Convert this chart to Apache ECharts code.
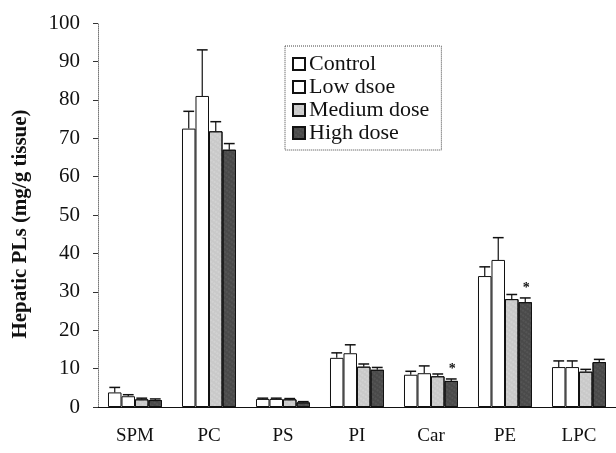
<!DOCTYPE html>
<html><head><meta charset="utf-8">
<script src="https://cdn.jsdelivr.net/npm/echarts@6/dist/echarts.min.js"></script>
<style>html,body{margin:0;padding:0;background:#fff}#c{width:616px;height:453px}</style>
</head><body><div id="c"></div>
<script>
const categories = ['SPM','PC','PS','PI','Car','PE','LPC'];
const seriesNames = ['Control','Low dsoe','Medium dose','High dose'];
const control = [3.8, 72.5, 2.1, 12.8, 8.4, 34.1, 10.4];
const lowDose = [2.8, 81.0, 2.1, 14.0, 8.8, 38.3, 10.4];
const mediumDose = [2.0, 71.8, 2.0, 10.5, 8.0, 28.1, 9.2];
const highDose = [1.8, 67.0, 1.2, 9.7, 6.8, 27.3, 11.7];
const controlErr = [1.3, 4.5, 0.2, 1.3, 0.9, 2.4, 1.6];
const lowDoseErr = [0.4, 12.0, 0.2, 2.2, 1.9, 5.8, 1.6];
const mediumDoseErr = [0.3, 2.5, 0.2, 0.7, 0.6, 1.2, 0.6];
const highDoseErr = [0.3, 1.6, 0.2, 0.6, 0.5, 1.1, 0.7];
const highDoseStar = [0, 0, 0, 0, 1, 1, 0];
const yTicks = [0,10,20,30,40,50,60,70,80,90,100];

const values = [control, lowDose, mediumDose, highDose];
const errs = [controlErr, lowDoseErr, mediumDoseErr, highDoseErr];
const fills = ['#ffffff','#ffffff','#c9c9c9','#4a4a4a'];
const gapRatio = 0.27;
const serif = 'Liberation Serif';

const chart = echarts.init(document.getElementById('c'));
const series = [];
values.forEach((v, si) => {
  const itemStyle = {color: fills[si], borderColor: '#111', borderWidth: 1};
  if (si >= 2) {
    itemStyle.decal = {symbol: 'rect', symbolSize: 0.6, dashArrayX: [2,1], dashArrayY: [2,2], rotation: 0.6,
      color: si === 2 ? 'rgba(255,255,255,0.55)' : 'rgba(150,150,150,0.5)'};
  }
  series.push({
    name: seriesNames[si], type: 'bar', data: v,
    barGap: '0%', barCategoryGap: (gapRatio*100)+'%',
    itemStyle: itemStyle,
    emphasis: {disabled: true}
  });
});
const errData = [];
values.forEach((v, si) => v.forEach((val, ci) => errData.push([ci, val, val + errs[si][ci], si, si === 3 ? highDoseStar[ci] : 0])));
series.push({
  type: 'custom', name: 'err', silent: true, z: 5,
  data: errData,
  renderItem: function (params, api) {
    const ci = api.value(0), lo = api.value(1), hi = api.value(2), si = api.value(3), star = api.value(4);
    const band = api.size([1, 0])[0];
    const bw = band * (1 - gapRatio) / 4;
    const c = api.coord([ci, lo]);
    const top = api.coord([ci, hi]);
    const x = c[0] - 2 * bw + bw * (si + 0.5);
    const children = [
      {type: 'line', shape: {x1: x, y1: c[1], x2: x, y2: top[1]}, style: {stroke: '#111', lineWidth: 1.2}},
      {type: 'line', shape: {x1: x - bw * 0.4, y1: top[1], x2: x + bw * 0.4, y2: top[1]}, style: {stroke: '#111', lineWidth: 1.5}}
    ];
    if (star) children.push({type: 'text', style: {text: '*', x: x + 1, y: top[1] - 3, align: 'center', verticalAlign: 'bottom', font: 'bold 14px ' + serif, fill: '#111'}});
    return {type: 'group', children: children};
  }
});

chart.setOption({
  animation: false,
  backgroundColor: '#fff',
  grid: {left: 98, right: -12, top: 23, bottom: 46},
  legend: {
    data: seriesNames, orient: 'vertical', left: 285, top: 46,
    itemWidth: 12, itemHeight: 12, itemGap: 1,
    padding: [7, 12, 6, 7],
    borderColor: '#444', borderWidth: 1, borderType: 'dotted',
    textStyle: {fontFamily: serif, fontSize: 22, color: '#111', padding: [0,0,0,-1]},
    icon: 'rect', selectedMode: false
  },
  xAxis: {
    type: 'category', data: categories,
    axisLine: {lineStyle: {color: '#111', width: 1}},
    axisTick: {show: false},
    axisLabel: {fontFamily: serif, fontSize: 19, color: '#111', margin: 20}
  },
  yAxis: {
    type: 'value', min: 0, max: 100, interval: 10,
    name: 'Hepatic PLs (mg/g tissue)', nameLocation: 'middle', nameGap: 67,
    nameTextStyle: {fontFamily: serif, fontSize: 21, fontWeight: 'bold', color: '#111', padding: [0, 18, 0, 0]},
    axisLine: {show: true, lineStyle: {color: '#777', type: 'dotted', width: 1}},
    axisTick: {show: true, length: 5, lineStyle: {color: '#333'}},
    splitLine: {show: false},
    axisLabel: {fontFamily: serif, fontSize: 21, color: '#111', margin: 18,
      formatter: function (v) { return yTicks.indexOf(v) >= 0 ? String(v) : ''; }}
  },
  series: series
});
</script></body></html>
